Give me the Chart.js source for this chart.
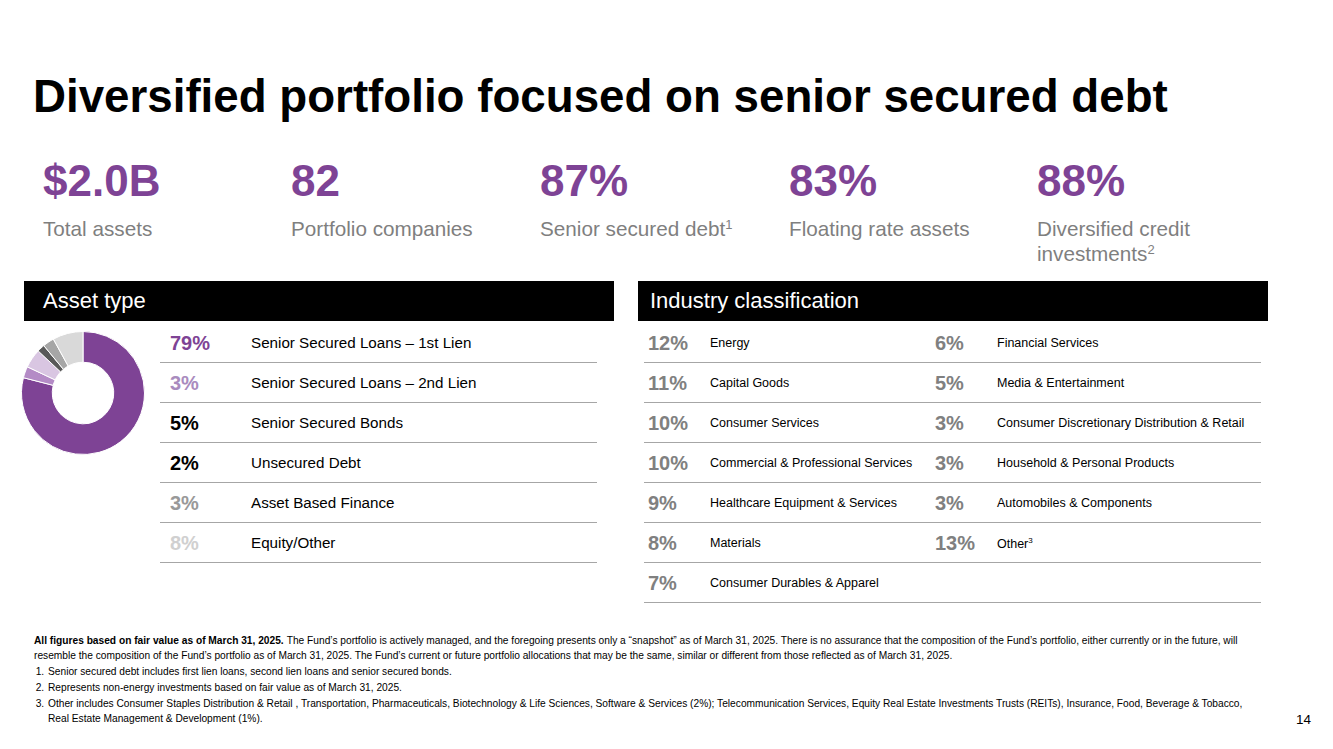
<!DOCTYPE html>
<html>
<head>
<meta charset="utf-8">
<script src="https://cdn.jsdelivr.net/npm/chart.js@4.4.1/dist/chart.umd.min.js"></script>
<style>
  html, body { margin: 0; padding: 0; background: #fff; }
  body { width: 1333px; height: 749px; position: relative; overflow: hidden;
         font-family: "Liberation Sans", Arial, sans-serif; color: #000; }
  .abs { position: absolute; white-space: nowrap; }
  #title { left: 33px; top: 71px; font-size: 45.7px; font-weight: bold; }
  .statNum { font-size: 44px; font-weight: bold; color: #7e4395; top: 156px; }
  .statLbl { font-size: 20.7px; color: #7f7f7f; top: 216px; line-height: 25px; }
  .statLbl sup { font-size: 13px; vertical-align: 7px; line-height: 0; }
  .bar { position: absolute; background: #000; color: #fff; font-size: 22px; height: 40px; line-height: 40px; top: 281px; }
  .row { position: absolute; height: 40px; border-bottom: 1.5px solid #a6a6a6; }
  .pct { position: absolute; font-weight: bold; font-size: 20px; top: 10px; }
  .lbl { position: absolute; top: 12px; }
  #notes { left: 34px; top: 633px; font-size: 10.2px; line-height: 15px; color: #000; white-space: normal; width: 1222px; }
  #notes ol { margin: 1px 0 0 0; padding-left: 13px; }
  #notes li { padding-left: 1px; line-height: 16px; }
  #notes li.two { line-height: 15px; }
</style>
</head>
<body>
<div class="abs" id="title">Diversified portfolio focused on senior secured debt</div>

<div id="stats"></div>

<div class="bar" style="left:24px; width:590px;"><span style="padding-left:19px;">Asset type</span></div>
<div class="bar" style="left:638px; width:630px;"><span style="padding-left:12px;">Industry classification</span></div>

<div class="abs" style="left:21px; top:331px; width:124px; height:124px;">
  <canvas id="assetChart" width="124" height="124"></canvas>
</div>

<div id="assetRows"></div>
<div id="industryRows"></div>

<div class="abs" id="notes">
  <div style="white-space:nowrap"><b style="margin-right:3px">All figures based on fair value as of March 31, 2025.</b><span>The Fund’s portfolio is actively managed, and the foregoing presents only a “snapshot” as of March 31, 2025. There is no assurance that the composition of the Fund’s portfolio, either currently or in the future, will</span></div>
  <div>resemble the composition of the Fund’s portfolio as of March 31, 2025. The Fund’s current or future portfolio allocations that may be the same, similar or different from those reflected as of March 31, 2025.</div>
  <ol>
    <li>Senior secured debt includes first lien loans, second lien loans and senior secured bonds.</li>
    <li>Represents non-energy investments based on fair value as of March 31, 2025.</li>
    <li class="two">Other includes Consumer Staples Distribution &amp; Retail , Transportation, Pharmaceuticals, Biotechnology &amp; Life Sciences, Software &amp; Services (2%); Telecommunication Services, Equity Real Estate Investments Trusts (REITs), Insurance, Food, Beverage &amp; Tobacco, Real Estate Management &amp; Development (1%).</li>
  </ol>
</div>
<div class="abs" style="left:1296px; top:712px; font-size:13.5px;">14</div>

<script>
// headline stats
const statValues = ["$2.0B", "82", "87%", "83%", "88%"];
const statLabels = ["Total assets", "Portfolio companies", "Senior secured debt<sup>1</sup>",
  "Floating rate assets", "Diversified credit<br>investments<sup>2</sup>"];

// asset type breakdown (% of fair value)
const assetLabels = ["Senior Secured Loans – 1st Lien", "Senior Secured Loans – 2nd Lien",
  "Senior Secured Bonds", "Unsecured Debt", "Asset Based Finance", "Equity/Other"];
const assetValues = [79, 3, 5, 2, 3, 8];
const assetColors = ["#7e4395", "#b48bc6", "#d9c6e2", "#595959", "#a6a6a6", "#d9d9d9"];
const assetTextColors = ["#7e4395", "#a98bbe", "#000000", "#000000", "#999999", "#d0d0d0"];

// industry classification (% of fair value)
const industryLabels = ["Energy", "Capital Goods", "Consumer Services",
  "Commercial & Professional Services", "Healthcare Equipment & Services", "Materials",
  "Consumer Durables & Apparel", "Financial Services", "Media & Entertainment",
  "Consumer Discretionary Distribution & Retail", "Household & Personal Products",
  "Automobiles & Components", "Other"];
const industryValues = [12, 11, 10, 10, 9, 8, 7, 6, 5, 3, 3, 3, 13];
const industryNotes = { 12: "3" };

const esc = (s) => s.replace(/&/g, "&amp;");

// stats row
const stats = document.getElementById("stats");
const statX = [43, 291, 540, 789, 1037];
statValues.forEach((v, i) => {
  stats.insertAdjacentHTML("beforeend",
    `<div class="abs statNum" style="left:${statX[i]}px">${v}</div>` +
    `<div class="abs statLbl" style="left:${statX[i]}px">${statLabels[i]}</div>`);
});

// asset table
const assetRows = document.getElementById("assetRows");
assetLabels.forEach((lab, i) => {
  assetRows.insertAdjacentHTML("beforeend",
    `<div class="row" style="left:160px; width:437px; top:${322 + i * 40}px;">
       <div class="pct" style="left:10px; color:${assetTextColors[i]}">${assetValues[i]}%</div>
       <div class="lbl" style="left:91px; font-size:15.2px;">${esc(lab)}</div>
     </div>`);
});

// industry table: first 7 in left column, rest in right column
const industryRows = document.getElementById("industryRows");
const indCell = (j, pctX) => {
  const note = industryNotes[j] ? `<sup style="font-size:8px">${industryNotes[j]}</sup>` : "";
  return `<div class="pct" style="left:${pctX}px; color:#808080">${industryValues[j]}%</div>
     <div class="lbl" style="left:${pctX + 62}px; font-size:12.5px; top:14px;">${esc(industryLabels[j])}${note}</div>`;
};
for (let r = 0; r < 7; r++) {
  let html = `<div class="row" style="left:644px; width:617px; top:${322 + r * 40}px;">` + indCell(r, 4);
  if (r + 7 < industryLabels.length) html += indCell(r + 7, 291);
  html += `</div>`;
  industryRows.insertAdjacentHTML("beforeend", html);
}

// donut
new Chart(document.getElementById("assetChart"), {
  type: "doughnut",
  data: {
    labels: assetLabels,
    datasets: [{
      data: assetValues,
      backgroundColor: assetColors,
      borderColor: "#ffffff",
      borderWidth: 1,
    }],
  },
  options: {
    responsive: false,
    animation: false,
    cutout: "50%",
    layout: { padding: 0 },
    plugins: { legend: { display: false }, tooltip: { enabled: false } },
  },
});
</script>
</body>
</html>
